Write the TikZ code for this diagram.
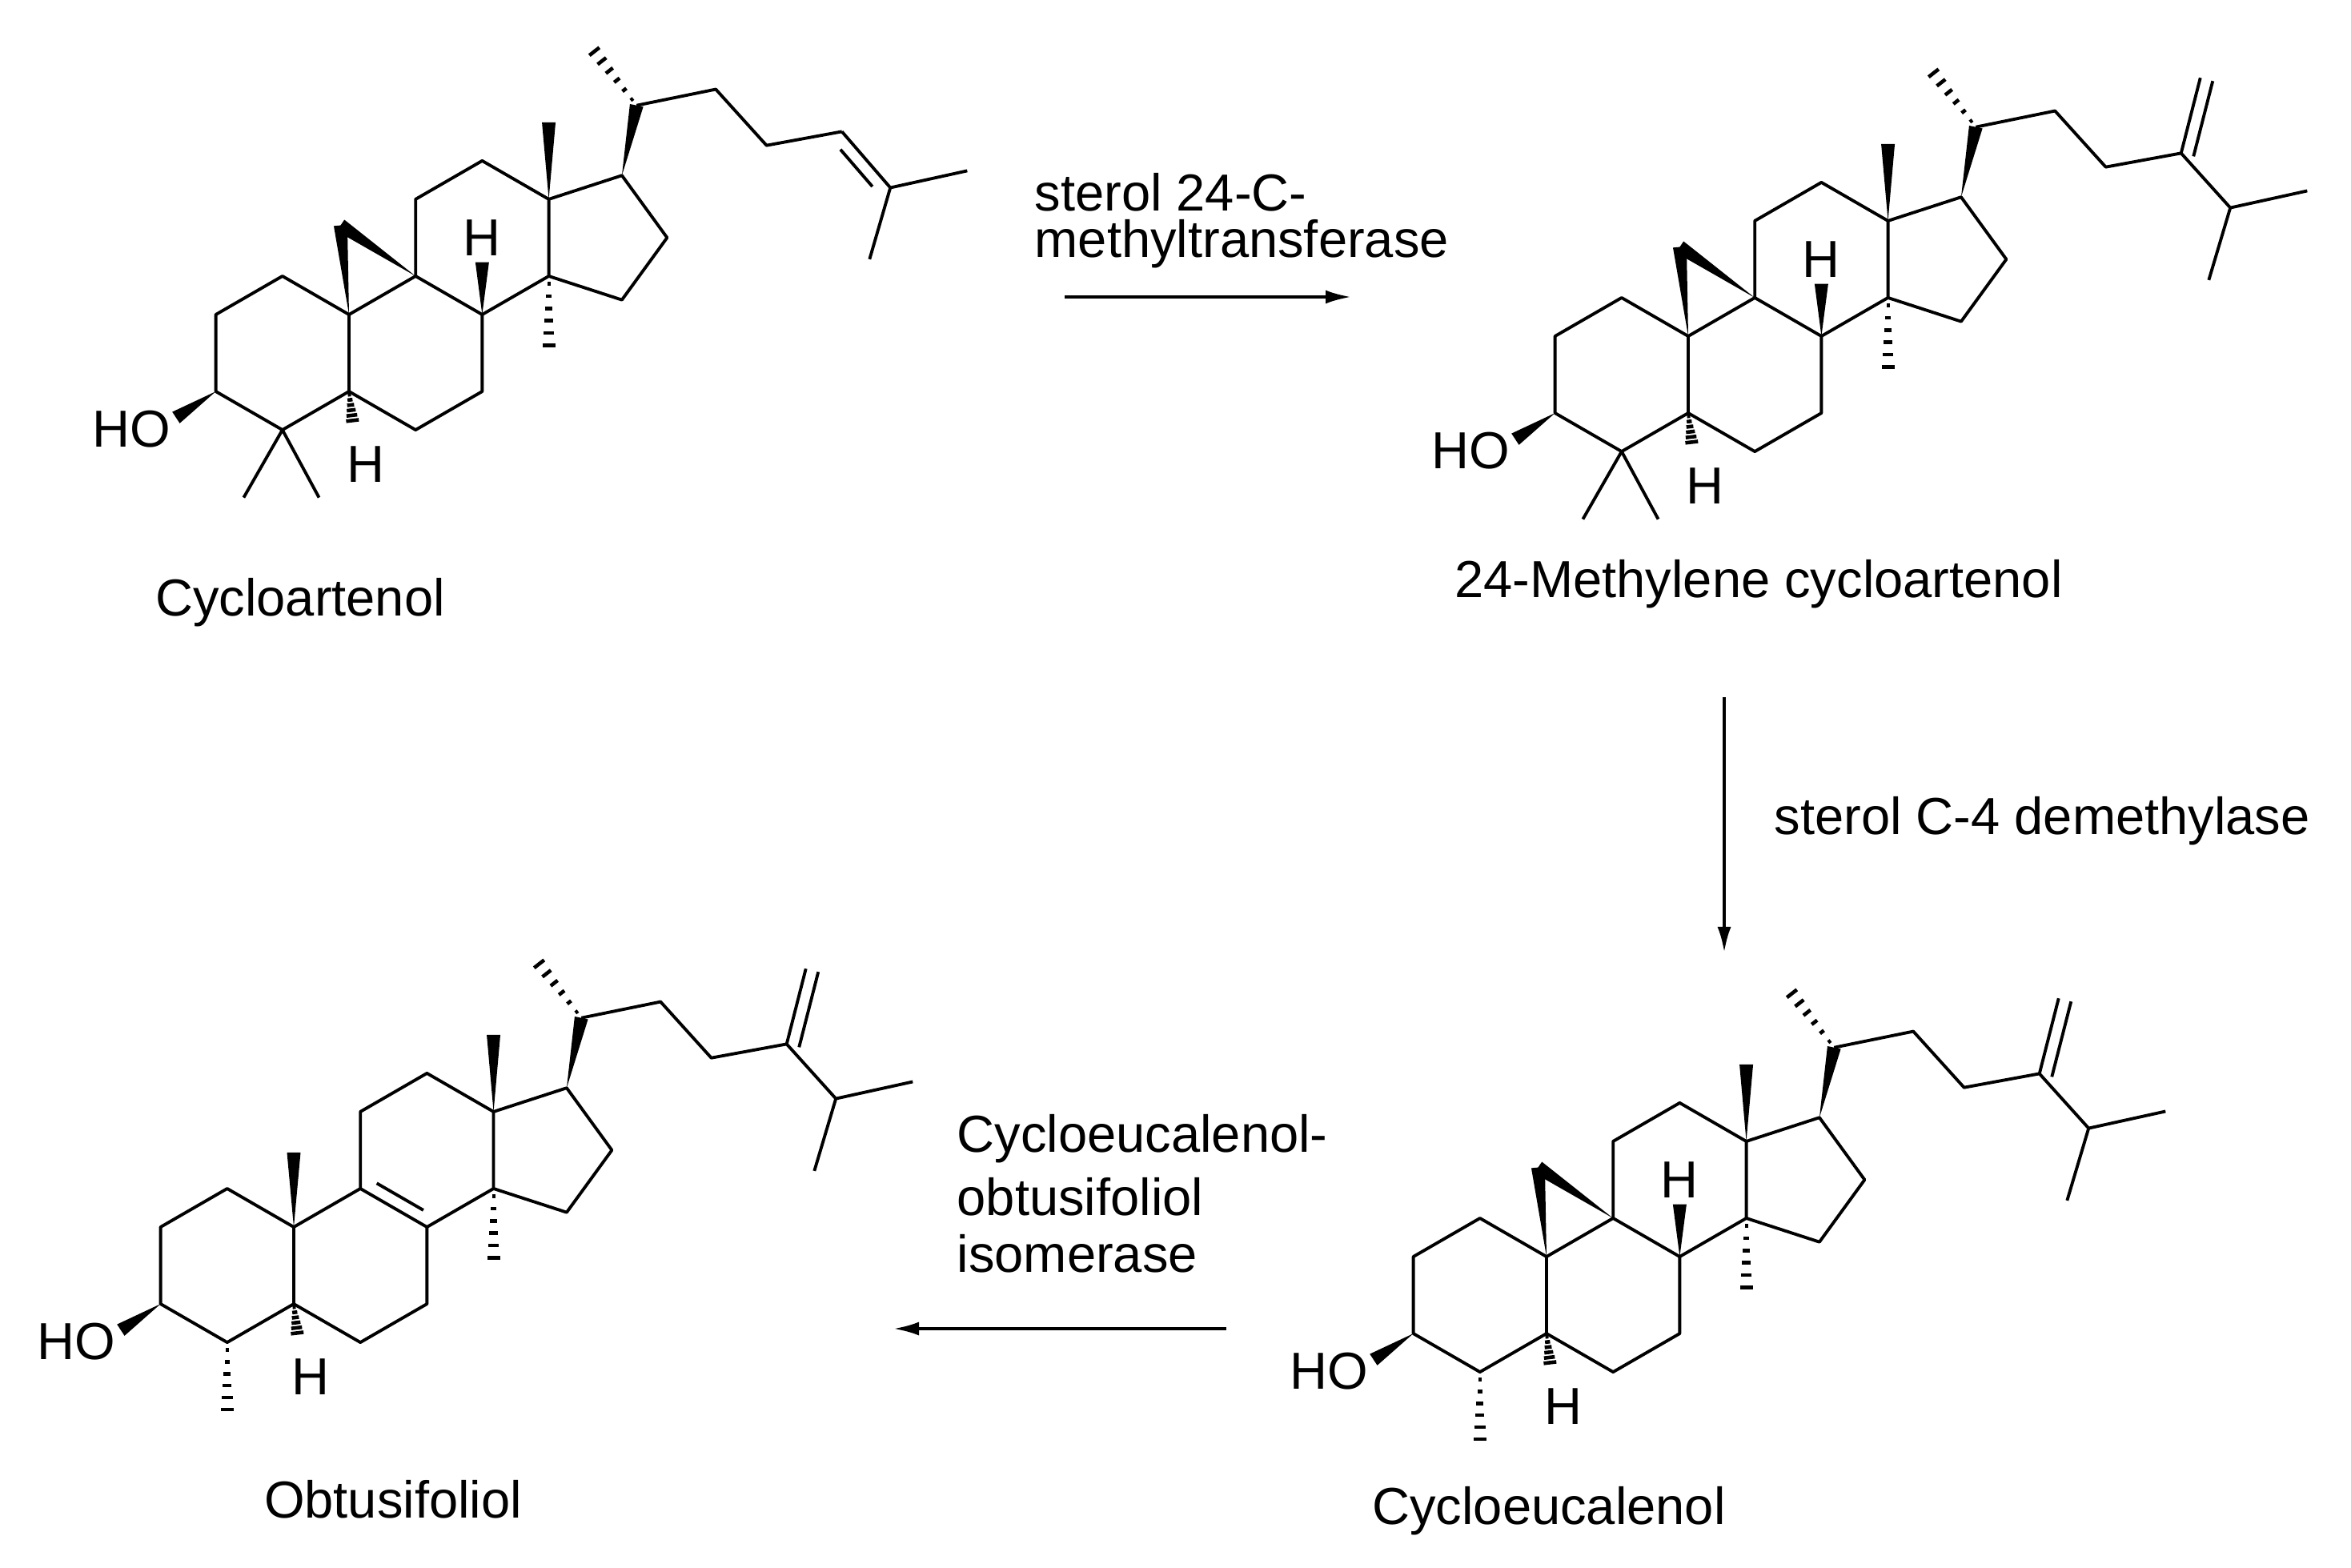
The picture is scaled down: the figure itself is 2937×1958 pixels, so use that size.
\documentclass[tikz,border=0pt]{standalone}
\usepackage{fontspec}
\setmainfont{Liberation Sans}
\usetikzlibrary{calc,arrows.meta}
\newcommand\wdg[2]{\fill (#1) -- ($(#2)!0.85mm!90:(#1)$) -- ($(#2)!0.85mm!-90:(#1)$) -- cycle;}
\newcommand\hsh[2]{\foreach \t in {0.1,0.26,0.42,0.58,0.74,0.9}{\path (#1) -- (#2) coordinate[pos=\t] (hp); \pgfmathsetmacro\hw{0.12+0.75*\t}\draw[line width=1.3pt] ($(hp)!\hw mm!90:(#2)$) -- ($(hp)!\hw mm!-90:(#2)$);}}
\newcommand\atoms{%
 \coordinate (c1) at (-.866,.5); \coordinate (c2) at (-1.732,0); \coordinate (c3) at (-1.732,-1);
 \coordinate (c4) at (-.866,-1.5); \coordinate (c5) at (0,-1); \coordinate (c6) at (.866,-1.5);
 \coordinate (c7) at (1.732,-1); \coordinate (c8) at (1.732,0); \coordinate (c9) at (.866,.5);
 \coordinate (c10) at (0,0); \coordinate (c11) at (.866,1.5); \coordinate (c12) at (1.732,2);
 \coordinate (c13) at (2.598,1.5); \coordinate (c14) at (2.598,.5); \coordinate (c15) at (3.549,.191);
 \coordinate (c16) at (4.137,1); \coordinate (c17) at (3.549,1.809); \coordinate (c18) at (2.598,2.5);
 \coordinate (c30) at (2.598,-.5); \coordinate (c20) at (3.74,2.72); \coordinate (c21) at (3.13,3.5);
 \coordinate (c22) at (4.77,2.93); \coordinate (c23) at (5.43,2.2); \coordinate (c24) at (6.41,2.38);
 \coordinate (oh) at (-2.25,-1.34); \coordinate (h5) at (0.05,-1.42);
 \draw[bond] (c1)--(c2)--(c3)--(c4)--(c5)--(c10)--cycle (c5)--(c6)--(c7)--(c8)--(c9)--(c10)
   (c9)--(c11)--(c12)--(c13)--(c14)--(c8) (c14)--(c15)--(c16)--(c17)--(c13)
   (c20)--(c22)--(c23)--(c24);
 \wdg{c13}{c18} \hsh{c14}{c30} \wdg{c17}{c20} \hsh{c20}{c21} \wdg{c3}{oh} \hsh{c5}{h5}
 \node[lbl] (HO) at (-2.83,-1.49) {HO}; \node[lbl] (H5) at (0.22,-1.95) {H};}
\newcommand\cyclo{%
 \coordinate (c19) at (-.11,1.16); \coordinate (h8) at (1.732,.68);
 \wdg{c10}{c19} \wdg{c9}{c19} \wdg{c8}{h8} \node[lbl] (H8) at (1.732,1.0) {H};}
\newcommand\methylene{%
 \coordinate (c28) at (6.66,3.36); \coordinate (c25) at (7.05,1.67); \coordinate (c26) at (8.05,1.89);
 \coordinate (c27) at (6.77,.73);
 \draw[bond] (c24)--(c28) (c24)--(c25)--(c26) (c25)--(c27);
 \draw[bond] ($(c24)!0.16cm!-90:(c28)$) -- ($(c28)!0.16cm!90:(c24)$);}
\newcommand\gem{\coordinate (m1) at (-1.37,-2.38); \coordinate (m2) at (-.39,-2.38); \draw[bond] (m1)--(c4)--(m2);}
\newcommand\alphame{\coordinate (m1) at (-.866,-2.47); \hsh{c4}{m1}}
\begin{document}
\begin{tikzpicture}[x=0.01cm,y=-0.01cm,
 bond/.style={line width=1.1pt,line join=round},
 lbl/.style={font=\fontsize{18.5}{22}\selectfont,inner sep=0pt},
 txt/.style={font=\fontsize{18.5}{22}\selectfont,inner sep=0pt,align=left},
 rxn/.style={line width=1.1pt,-{Latex[length=3.2mm,width=1.7mm]}}]
\useasboundingbox (0,0) rectangle (2937,1958);
% Cycloartenol
\begin{scope}[shift={(436,393)},x=0.96cm,y=0.96cm]
 \atoms \cyclo \gem
 \coordinate (c25) at (7.04,1.65); \coordinate (c26) at (8.04,1.87); \coordinate (c27) at (6.77,.72);
 \draw[bond] (c24)--(c25)--(c26) (c25)--(c27);
 \draw[bond] ($(c24)!0.17!(c25)!0.16cm!-90:(c25)$) -- ($(c24)!0.83!(c25)!0.16cm!-90:(c25)$);
\end{scope}
% 24-Methylene cycloartenol
\begin{scope}[shift={(2109,420)},x=0.96cm,y=0.96cm]
 \atoms \cyclo \gem \methylene
\end{scope}
% Obtusifoliol
\begin{scope}[shift={(367,1533)},x=0.96cm,y=0.96cm]
 \atoms \methylene \alphame
 \coordinate (c19) at (0,.97); \wdg{c10}{c19}
 \draw[bond] ($(c9)!0.15!(c8)!0.16cm!90:(c8)$) -- ($(c9)!0.85!(c8)!0.16cm!90:(c8)$);
\end{scope}
% Cycloeucalenol
\begin{scope}[shift={(1932,1570)},x=0.96cm,y=0.96cm]
 \atoms \cyclo \methylene \alphame
\end{scope}
% labels
\node[lbl] (n1) at (375,753) {Cycloartenol};
\node[lbl] (n2) at (2197,730) {24-Methylene cycloartenol};
\node[lbl] (n3) at (491,1873) {Obtusifoliol};
\node[lbl] (n4) at (1935,1888) {Cycloeucalenol};
% arrows
\coordinate (a1s) at (1330,371); \coordinate (a1e) at (1688,371);
\draw[rxn] (a1s) -- (a1e);
\node[txt,anchor=west] (e1a) at (1292,240) {sterol 24-C-};
\node[txt,anchor=west] (e1b) at (1292,305) {methyltransferase};
\coordinate (a2s) at (2154,871); \coordinate (a2e) at (2154,1190);
\draw[rxn] (a2s) -- (a2e);
\node[txt,anchor=west] (e2) at (2216,1026) {sterol C-4 demethylase};
\coordinate (a3s) at (1532,1660); \coordinate (a3e) at (1116,1660);
\draw[rxn] (a3s) -- (a3e);
\node[txt,anchor=west] (e3a) at (1195,1423) {Cycloeucalenol-};
\node[txt,anchor=west] (e3b) at (1195,1495) {obtusifoliol};
\node[txt,anchor=west] (e3c) at (1195,1566) {isomerase};
\end{tikzpicture}
\end{document}
